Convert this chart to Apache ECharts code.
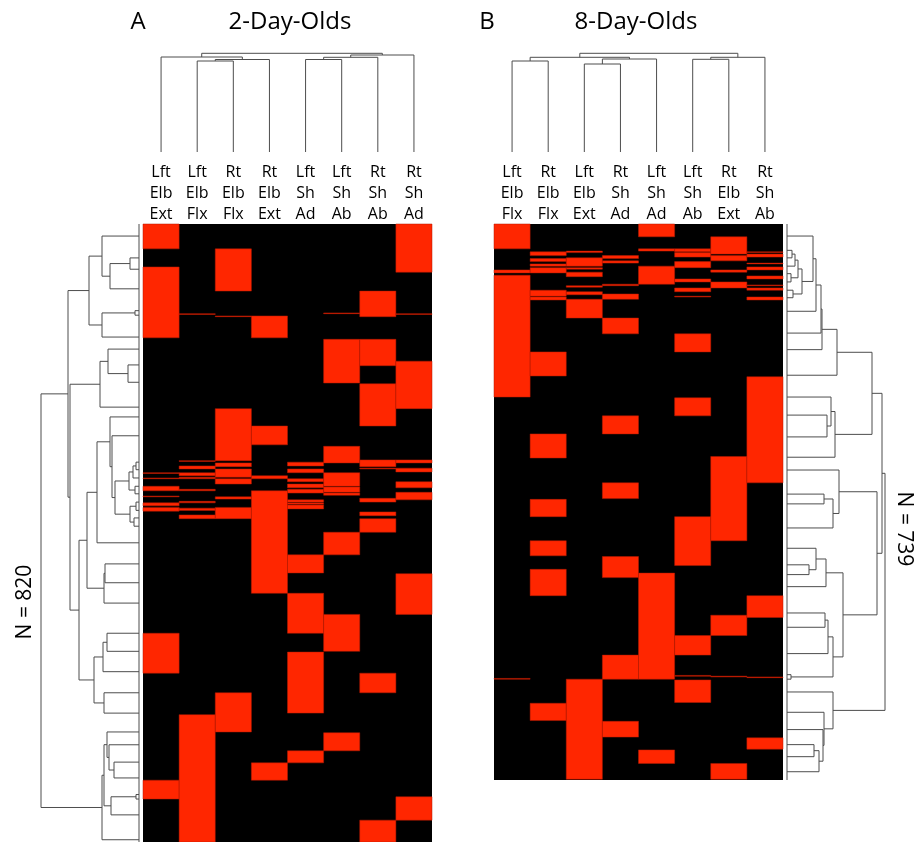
<!DOCTYPE html>
<html><head><meta charset="utf-8">
<script src="https://cdn.jsdelivr.net/npm/echarts@6/dist/echarts.min.js"></script>
<style>html,body{margin:0;padding:0;background:#fff}#c{width:914px;height:842px}</style>
</head><body><div id="c"></div>
<script>
// ---------- data ----------
const colsA = ['Lft\nElb\nExt','Lft\nElb\nFlx','Rt\nElb\nFlx','Rt\nElb\nExt','Lft\nSh\nAd','Lft\nSh\nAb','Rt\nSh\nAb','Rt\nSh\nAd'];
const colsB = ['Lft\nElb\nFlx','Rt\nElb\nFlx','Lft\nElb\nExt','Rt\nSh\nAd','Lft\nSh\nAd','Lft\nSh\nAb','Rt\nElb\nExt','Rt\nSh\nAb'];
const rowsA = 820, rowsB = 739;
// red cells: [column, first row, last row]
const redA = [
 [0,0,33],[0,57,151],[0,330,331],[0,337,338],[0,348,354],[0,361,362],[0,370,374],[0,376,381],[0,543,596],[0,738,763],
 [1,119,120],[1,314,315],[1,321,325],[1,330,334],[1,336,338],[1,352,354],[1,368,370],[1,377,380],[1,386,391],[1,651,820],
 [2,33,89],[2,122,123],[2,245,314],[2,317,322],[2,325,336],[2,338,345],[2,362,365],[2,376,391],[2,622,674],
 [3,122,151],[3,268,293],[3,334,338],[3,354,490],[3,715,738],
 [4,316,321],[4,325,330],[4,338,342],[4,345,350],[4,352,357],[4,366,369],[4,370,372],[4,373,378],[4,439,463],[4,490,543],[4,568,649],[4,699,715],
 [5,118,119],[5,153,211],[5,295,317],[5,330,348],[5,349,356],[5,357,360],[5,409,439],[5,518,567],[5,675,699],
 [6,89,123],[6,153,188],[6,212,268],[6,313,322],[6,324,325],[6,364,369],[6,382,387],[6,391,409],[6,596,622],[6,791,820],
 [7,0,64],[7,119,120],[7,182,245],[7,313,317],[7,324,329],[7,342,350],[7,356,366],[7,464,518],[7,760,791]
];
const redB = [
 [0,0,33],[0,61,65],[0,68,230],[0,604,605],
 [1,37,42],[1,46,50],[1,53,56],[1,58,65],[1,88,96],[1,97,101],[1,170,202],[1,279,311],[1,366,389],[1,421,441],[1,459,494],[1,637,660],
 [2,36,38],[2,45,56],[2,58,60],[2,64,70],[2,82,84],[2,90,94],[2,100,125],[2,605,738],
 [3,42,46],[3,49,52],[3,80,82],[3,93,100],[3,125,146],[3,255,279],[3,344,365],[3,442,470],[3,573,605],[3,661,682],
 [4,0,17],[4,33,36],[4,56,80],[4,464,605],[4,699,717],
 [5,33,37],[5,38,44],[5,50,58],[5,73,77],[5,85,90],[5,96,97],[5,146,170],[5,231,255],[5,389,454],[5,547,573],[5,600,601],[5,606,636],
 [6,17,40],[6,42,49],[6,61,64],[6,77,85],[6,309,421],[6,520,547],[6,601,602],[6,717,738],
 [7,37,38],[7,40,44],[7,52,53],[7,57,61],[7,69,73],[7,81,82],[7,85,88],[7,97,101],[7,203,344],[7,494,523],[7,602,603],[7,683,698]
];
// dendrograms: node = [height, left, right]; leaf = column index / row position
const colTreeA = [98.7, [95, 0, [92.5, [91, 1, 2], 3]], [97, [94.7, [92.5, 4, 5], 6], 7]];
const colTreeB = [98.7, [94.7, [91, 0, 1], [93, [88, 2, 3], 4]], [94.7, [92.7, 5, 6], 7]];
const tA_top  = [50, [37, 16, [29, [9, 45, 60], 86]], [37, [4, 115, 121], 150]];
const tA_mid  = [39, [31, 166, [11, 187, 210]], 243];
const tA_fine = [24, [10, [6, [3, 316, 326], 337], [4, 348, 358]], [9, [3, 369, 380], [5, 390, 401]]];
const tA_low  = [60, [52, [42, [29, 256, [27, 281, tA_fine]], 423], [35, [34, 451, 476], 503]], [45, [36, [32, 543, 567], 594], [35, 622, 649]]];
const tA_bot  = [37, [35, [32, 674, [30, 691, [25, 714, 735]]], [28, [3, 757, 763], 784]], 817];
const rowTreeA = [98, [71, tA_top, [69, tA_mid, tA_low]], tA_bot];
const tB_fine = [15, [11, [8, [5, 35, 45], 56], [4, 66, 77]], [6, 88, 98]];
const tB_top  = [85, [50, [35, [34, [29, [26, 16, tB_fine], 116], 145], 167], 201], [48, [44, 230, [40, 254, 283]], 310]];
const tB_mid  = [90, [52, 327, [46, [37, 359, 372], 404]], [56, [39, [29, 431, [22, 453, 466]], 482], [46, [41, [38, 517, 536], 571], [4, 599, 605]]]];
const tB_bot  = [46, 622, [37, 649, [36, 672, [32, [27, 692, 708], 728]]]];
const rowTreeB = [98, [95, tB_top, tB_mid], tB_bot];

// ---------- drawing ----------
const RED = '#ff2600', EDGE = '#b51a00', DLINE = '#4d4d4d';
function dendroSegs(tree, horizontal) {
  const segs = [];
  function walk(n) {
    if (typeof n === 'number') return { p: n, h: 0 };
    const a = walk(n[1]), b = walk(n[2]), h = n[0];
    const pts = [[a.p, a.h], [a.p, h], [b.p, h], [b.p, b.h]];
    segs.push({ coords: horizontal ? pts.map(q => [q[1], q[0]]) : pts });
    return { p: (a.p + b.p) / 2, h: h };
  }
  walk(tree);
  return segs;
}
function cellItem(params, api) {
  const c = api.value(0), s = api.value(1), e = api.value(2);
  const p1 = api.coord([c, s]), p2 = api.coord([c + 1, e]);
  return { type: 'rect', shape: { x: p1[0], y: p1[1], width: p2[0] - p1[0], height: p2[1] - p1[1] },
           style: { fill: RED, stroke: EDGE, lineWidth: 0.5 } };
}
const hid = o => Object.assign({ show: false }, o);
const linesSeries = (xi, data, color, width) => ({
  type: 'lines', coordinateSystem: 'cartesian2d', polyline: true, xAxisIndex: xi, yAxisIndex: xi,
  clip: false, silent: true, data: data, lineStyle: { color: color, width: width, opacity: 1 }
});
const rowSegsA = dendroSegs(rowTreeA, true);
rowSegsA.push({ coords: [[0, 0], [0, rowsA]] });
const rowSegsB = dendroSegs(rowTreeB, true);
rowSegsB.push({ coords: [[0, 0], [0, rowsB]] });

const font = '"Open Sans", "DejaVu Sans", sans-serif';
const chart = echarts.init(document.getElementById('c'), null, { renderer: 'canvas' });
chart.setOption({
  animation: false,
  backgroundColor: '#fff',
  grid: [
    { left: 143, top: 224, width: 289, height: 618, show: true, backgroundColor: '#000', borderWidth: 0 },
    { left: 494, top: 224, width: 289, height: 556, show: true, backgroundColor: '#000', borderWidth: 0 },
    { left: 39, top: 224, width: 100, height: 618 },
    { left: 787, top: 224, width: 100, height: 556 },
    { left: 143, top: 52, width: 289, height: 100 },
    { left: 494, top: 52, width: 289, height: 100 }
  ],
  xAxis: [
    hid({ type: 'value', gridIndex: 0, min: 0, max: 8 }),
    hid({ type: 'value', gridIndex: 1, min: 0, max: 8 }),
    hid({ type: 'value', gridIndex: 2, min: 0, max: 100, inverse: true }),
    hid({ type: 'value', gridIndex: 3, min: 0, max: 100 }),
    hid({ type: 'value', gridIndex: 4, min: -0.5, max: 7.5 }),
    hid({ type: 'value', gridIndex: 5, min: -0.5, max: 7.5 }),
    { type: 'category', gridIndex: 4, data: colsA, position: 'bottom', axisLine: { show: false }, axisTick: { show: false },
      axisLabel: { interval: 0, margin: 10, color: '#000', fontFamily: font, fontSize: 16, lineHeight: 21 } },
    { type: 'category', gridIndex: 5, data: colsB, position: 'bottom', axisLine: { show: false }, axisTick: { show: false },
      axisLabel: { interval: 0, margin: 10, color: '#000', fontFamily: font, fontSize: 16, lineHeight: 21 } }
  ],
  yAxis: [
    hid({ type: 'value', gridIndex: 0, min: 0, max: rowsA, inverse: true }),
    hid({ type: 'value', gridIndex: 1, min: 0, max: rowsB, inverse: true }),
    hid({ type: 'value', gridIndex: 2, min: 0, max: rowsA, inverse: true }),
    hid({ type: 'value', gridIndex: 3, min: 0, max: rowsB, inverse: true }),
    hid({ type: 'value', gridIndex: 4, min: 0, max: 100 }),
    hid({ type: 'value', gridIndex: 5, min: 0, max: 100 })
  ],
  series: [
    { type: 'custom', xAxisIndex: 0, yAxisIndex: 0, renderItem: cellItem, data: redA, encode: { x: 0, y: [1, 2] }, silent: true },
    { type: 'custom', xAxisIndex: 1, yAxisIndex: 1, renderItem: cellItem, data: redB, encode: { x: 0, y: [1, 2] }, silent: true },
    linesSeries(2, rowSegsA, DLINE, 1),
    linesSeries(3, rowSegsB, DLINE, 1),
    linesSeries(4, dendroSegs(colTreeA, false), DLINE, 1),
    linesSeries(5, dendroSegs(colTreeB, false), DLINE, 1)
  ],
  graphic: [
    { type: 'text', x: 138, y: 22, style: { text: 'A', font: '24px ' + font, fill: '#000', align: 'center', verticalAlign: 'middle' } },
    { type: 'text', x: 290, y: 22, style: { text: '2-Day-Olds', font: '24px ' + font, fill: '#000', align: 'center', verticalAlign: 'middle' } },
    { type: 'text', x: 487, y: 22, style: { text: 'B', font: '24px ' + font, fill: '#000', align: 'center', verticalAlign: 'middle' } },
    { type: 'text', x: 636, y: 22, style: { text: '8-Day-Olds', font: '24px ' + font, fill: '#000', align: 'center', verticalAlign: 'middle' } },
    { type: 'text', x: 25, y: 602, rotation: Math.PI / 2, style: { text: 'N = 820', font: '21px ' + font, fill: '#000', align: 'center', verticalAlign: 'middle' } },
    { type: 'text', x: 904, y: 529, rotation: -Math.PI / 2, style: { text: 'N = 739', font: '21px ' + font, fill: '#000', align: 'center', verticalAlign: 'middle' } }
  ]
});
</script></body></html>
